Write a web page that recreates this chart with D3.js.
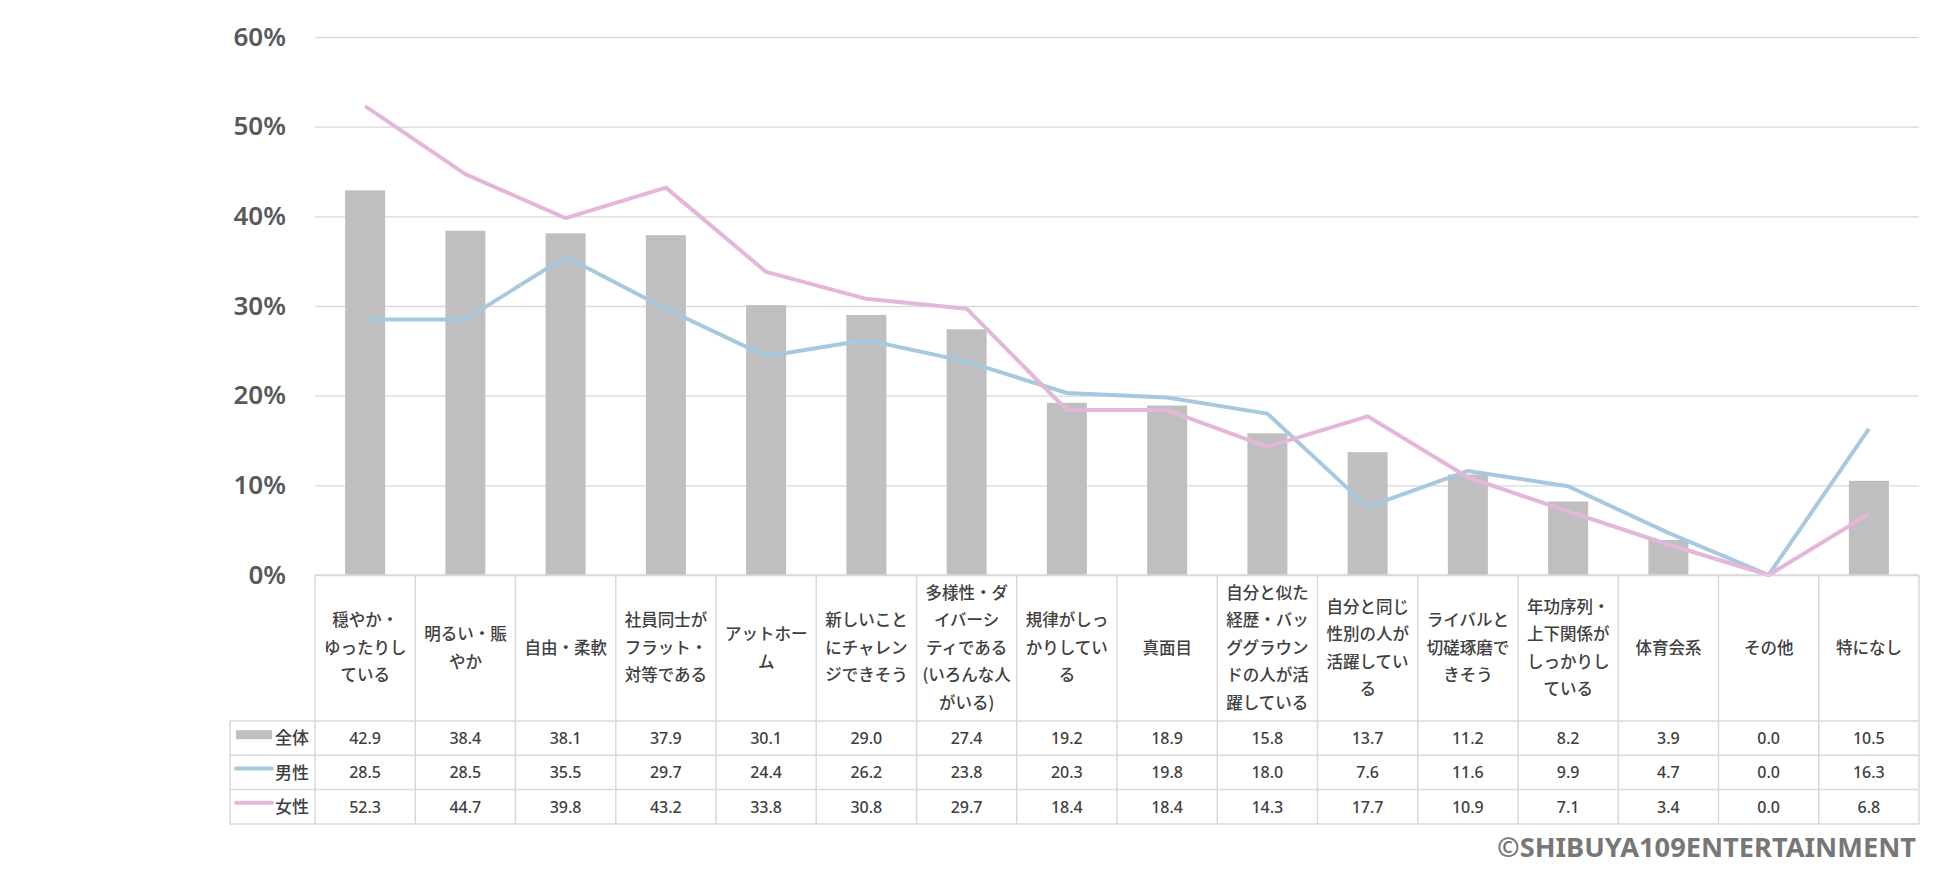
<!DOCTYPE html>
<html>
<head>
<meta charset="utf-8">
<script src="https://cdn.jsdelivr.net/npm/d3@7"></script>
<style>
  body { margin: 0; background: #fff; }
  svg { display: block; font-family: "Noto Sans CJK JP", "Noto Sans", sans-serif; }
</style>
</head>
<body>
<script>
// categories (line breaks as in the table)
var categories = [
  "穏やか・|ゆったりし|ている",
  "明るい・賑|やか",
  "自由・柔軟",
  "社員同士が|フラット・|対等である",
  "アットホー|ム",
  "新しいこと|にチャレン|ジできそう",
  "多様性・ダ|イバーシ|ティである|(いろんな人|がいる)",
  "規律がしっ|かりしてい|る",
  "真面目",
  "自分と似た|経歴・バッ|ググラウン|ドの人が活|躍している",
  "自分と同じ|性別の人が|活躍してい|る",
  "ライバルと|切磋琢磨で|きそう",
  "年功序列・|上下関係が|しっかりし|ている",
  "体育会系",
  "その他",
  "特になし"
];

var total  = [42.9, 38.4, 38.1, 37.9, 30.1, 29.0, 27.4, 19.2, 18.9, 15.8, 13.7, 11.2, 8.2, 3.9, 0.0, 10.5];
var male   = [28.5, 28.5, 35.5, 29.7, 24.4, 26.2, 23.8, 20.3, 19.8, 18.0, 7.6, 11.6, 9.9, 4.7, 0.0, 16.3];
var female = [52.3, 44.7, 39.8, 43.2, 33.8, 30.8, 29.7, 18.4, 18.4, 14.3, 17.7, 10.9, 7.1, 3.4, 0.0, 6.8];

var seriesNames = ["全体", "男性", "女性"];
var yTicks = [0, 10, 20, 30, 40, 50, 60];

var W = 1950, H = 880;
var plotLeft = 315, plotRight = 1919, plotTop = 37, zero = 575;
var catBottom = 721, rowH = 34.3, legendLeft = 230;
var colBar = "#bfbfbf", colMale = "#a7c9de", colFemale = "#e3b6da";
var gridCol = "#d9d9d9", textCol = "#404040";

var svg = d3.select("body").append("svg")
  .attr("width", W)
  .attr("height", H);

var x = d3.scaleBand()
  .domain(d3.range(categories.length))
  .range([plotLeft, plotRight])
  .padding(0);

var y = d3.scaleLinear()
  .domain([0, 60])
  .range([zero, plotTop]);

//y axis with gridlines
var yAxis = svg.append("g")
  .attr("transform", "translate(" + plotLeft + ",0)")
  .call(d3.axisLeft(y)
    .tickValues(yTicks)
    .tickSize(-(plotRight - plotLeft))
    .tickPadding(29)
    .tickFormat(function(d){ return d + "%"; }));

yAxis.select(".domain").remove();
yAxis.selectAll(".tick line")
  .attr("stroke", gridCol)
  .attr("stroke-width", 1.3);
yAxis.selectAll(".tick text")
  .attr("fill", "#595959")
  .style("font-size", "26px")
  .style("font-weight", "600")
  .style("font-family", "'Noto Sans', sans-serif");

//bars
var barW = 40;
svg.append("g").selectAll("rect")
  .data(total)
  .join("rect")
  .attr("x", function(d, i){ return x(i) + x.bandwidth()/2 - barW/2; })
  .attr("y", function(d){ return y(d); })
  .attr("width", barW)
  .attr("height", function(d){ return zero - y(d); })
  .attr("fill", colBar);

//lines
var line = d3.line()
  .x(function(d, i){ return x(i) + x.bandwidth()/2; })
  .y(function(d){ return y(d); });

svg.append("path")
  .datum(male)
  .attr("d", line)
  .attr("fill", "none")
  .attr("stroke", colMale)
  .attr("stroke-width", 4)
  .attr("stroke-linejoin", "round");

svg.append("path")
  .datum(female)
  .attr("d", line)
  .attr("fill", "none")
  .attr("stroke", colFemale)
  .attr("stroke-width", 4)
  .attr("stroke-linejoin", "round");

//data table
var table = svg.append("g");
var tableBottom = catBottom + rowH * 3;

//horizontal lines
table.append("line")
  .attr("x1", plotLeft).attr("x2", plotRight)
  .attr("y1", zero).attr("y2", zero);
[0, 1, 2, 3].forEach(function(r){
  table.append("line")
    .attr("x1", legendLeft).attr("x2", plotRight)
    .attr("y1", catBottom + r * rowH).attr("y2", catBottom + r * rowH);
});
//vertical lines
d3.range(categories.length + 1).forEach(function(i){
  var xx = plotLeft + i * x.step();
  table.append("line")
    .attr("x1", xx).attr("x2", xx)
    .attr("y1", zero).attr("y2", tableBottom);
});
table.append("line")
  .attr("x1", legendLeft).attr("x2", legendLeft)
  .attr("y1", catBottom).attr("y2", tableBottom);
table.selectAll("line")
  .attr("stroke", gridCol)
  .attr("stroke-width", 1.5);

//category labels
var lineH = 27.5;
var catMid = (zero + catBottom) / 2;
categories.forEach(function(c, i){
  var parts = c.split("|");
  var t = table.append("text")
    .attr("text-anchor", "middle")
    .attr("fill", textCol)
    .style("font-size", "16.5px")
    .style("font-weight", "500");
  parts.forEach(function(p, k){
    t.append("tspan")
      .attr("x", x(i) + x.bandwidth()/2)
      .attr("y", catMid + (k - (parts.length - 1) / 2) * lineH)
      .attr("dy", "0.36em")
      .text(p);
  });
});

//values
[total, male, female].forEach(function(series, r){
  var cy = catBottom + r * rowH + rowH / 2;
  table.append("g").selectAll("text")
    .data(series)
    .join("text")
    .attr("x", function(d, i){ return x(i) + x.bandwidth()/2; })
    .attr("y", cy)
    .attr("dy", "0.36em")
    .attr("text-anchor", "middle")
    .attr("fill", textCol)
    .style("font-size", "16px")
    .style("font-weight", "500")
    .style("font-family", "'Noto Sans', sans-serif")
    .text(function(d){ return d.toFixed(1); });

  //legend keys
  if (r === 0) {
    table.append("rect")
      .attr("x", 236).attr("y", cy - 8)
      .attr("width", 36).attr("height", 9)
      .attr("fill", colBar);
  } else {
    table.append("line")
      .attr("x1", 236).attr("x2", 272)
      .attr("y1", cy - 4).attr("y2", cy - 4)
      .attr("stroke", r === 1 ? colMale : colFemale)
      .attr("stroke-width", 4)
      .attr("stroke-linecap", "round");
  }
  table.append("text")
    .attr("x", 275)
    .attr("y", cy)
    .attr("dy", "0.36em")
    .attr("fill", textCol)
    .style("font-size", "17px")
    .style("font-weight", "500")
    .text(seriesNames[r]);
});

//copyright
svg.append("text")
  .attr("x", 1916)
  .attr("y", 857)
  .attr("text-anchor", "end")
  .attr("fill", "#777777")
  .attr("textLength", 419)
  .attr("lengthAdjust", "spacingAndGlyphs")
  .style("font-size", "27px")
  .style("font-weight", "700")
  .style("font-family", "'Noto Sans', sans-serif")
  .text("©SHIBUYA109ENTERTAINMENT");
</script>
</body>
</html>
